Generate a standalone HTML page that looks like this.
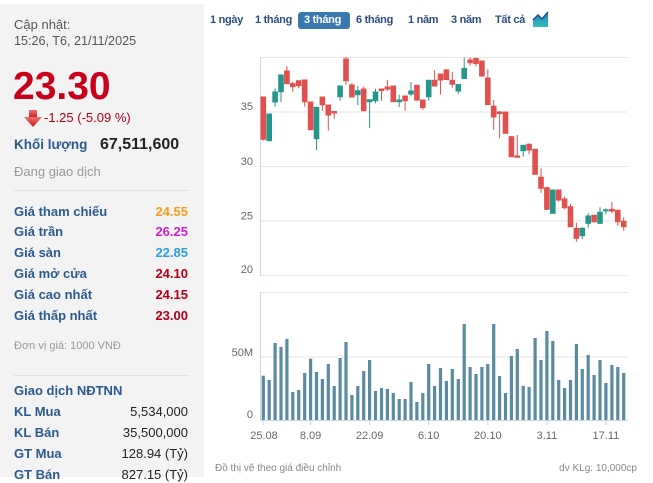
<!DOCTYPE html>
<html><head><meta charset="utf-8">
<style>
*{margin:0;padding:0;box-sizing:border-box}
html,body{width:653px;height:477px;overflow:hidden;background:#fff;font-family:"Liberation Sans",Arial,sans-serif}
.a{position:absolute;white-space:nowrap;line-height:16px}
#lp{position:absolute;left:0;top:4px;width:204px;height:473px;background:#f3f3f3}
.lb{font-size:13px;font-weight:bold;color:#2b5a8c;left:14px}
.vr{font-size:13px;font-weight:bold;right:465px;text-align:right}
.vn{font-size:13px;color:#222;right:465px;text-align:right}
.sep{position:absolute;left:14px;width:175px;height:1px;background:#e2e2e2}
.btn{font-size:11px;font-weight:bold;color:#2d4e7e;top:12px;letter-spacing:-0.3px}
</style></head><body>
<div id="lp"></div>
<div class="a" style="left:14px;top:17px;font-size:13px;color:#555">Cập nhật:</div>
<div class="a" style="left:14px;top:33px;font-size:12.6px;color:#555">15:26, T6, 21/11/2025</div>
<div class="a" style="left:13px;top:67px;font-size:39px;line-height:39px;font-weight:bold;color:#c8001c">23.30</div>
<svg style="position:absolute;left:22px;top:108px" width="22" height="22">
<defs><linearGradient id="ag" x1="0" y1="0" x2="0" y2="1"><stop offset="0" stop-color="#f07070"/><stop offset="1" stop-color="#c81818"/></linearGradient></defs>
<rect x="7" y="2" width="8" height="8" fill="url(#ag)"/><polygon points="2,9 20,9 11,19" fill="url(#ag)"/></svg>
<div class="a" style="left:44px;top:110px;font-size:13px;color:#a8001a">-1.25 (-5.09 %)</div>
<div class="a" style="left:14px;top:137px;font-size:13.5px;font-weight:bold;color:#2b5a8c">Khối lượng</div>
<div class="a" style="left:100px;top:137px;font-size:16px;font-weight:bold;color:#222">67,511,600</div>
<div class="a" style="left:14px;top:164px;font-size:13px;color:#999">Đang giao dịch</div>
<div class="sep" style="top:190px"></div>

<div class="a lb" style="top:204px">Giá tham chiếu</div><div class="a vr" style="top:204px;color:#f29d1c">24.55</div>
<div class="a lb" style="top:224px">Giá trần</div><div class="a vr" style="top:224px;color:#cc1fcc">26.25</div>
<div class="a lb" style="top:245px">Giá sàn</div><div class="a vr" style="top:245px;color:#2f9be0">22.85</div>
<div class="a lb" style="top:266px">Giá mở cửa</div><div class="a vr" style="top:266px;color:#b0001a">24.10</div>
<div class="a lb" style="top:287px">Giá cao nhất</div><div class="a vr" style="top:287px;color:#b0001a">24.15</div>
<div class="a lb" style="top:308px">Giá thấp nhất</div><div class="a vr" style="top:308px;color:#b0001a">23.00</div>
<div class="a" style="left:14px;top:338px;font-size:11px;color:#999">Đơn vị giá: 1000 VNĐ</div>
<div class="sep" style="top:375px"></div>
<div class="a lb" style="top:383px">Giao dịch NĐTNN</div>
<div class="a lb" style="top:404px">KL Mua</div><div class="a vn" style="top:404px">5,534,000</div>
<div class="a lb" style="top:425px">KL Bán</div><div class="a vn" style="top:425px">35,500,000</div>
<div class="a lb" style="top:446px">GT Mua</div><div class="a vn" style="top:446px">128.94 (Tỷ)</div>
<div class="a lb" style="top:467px">GT Bán</div><div class="a vn" style="top:467px">827.15 (Tỷ)</div>

<div style="position:absolute;left:298px;top:12px;width:52px;height:17px;background:#3a78b0;border-radius:3px"></div>
<div class="a btn" style="left:210px">1 ngày</div>
<div class="a btn" style="left:255px">1 tháng</div>
<div class="a btn" style="left:304px;color:#fff">3 tháng</div>
<div class="a btn" style="left:356px">6 tháng</div>
<div class="a btn" style="left:408px">1 năm</div>
<div class="a btn" style="left:451px">3 năm</div>
<div class="a btn" style="left:495px">Tất cả</div>
<svg style="position:absolute;left:532px;top:10px" width="18" height="18">
<defs><linearGradient id="ig" x1="0" y1="0" x2="0" y2="1"><stop offset="0" stop-color="#2a7fc0"/><stop offset="1" stop-color="#2cc0b8"/></linearGradient></defs>
<polygon points="1,17 1,10 6,5 10,9 16,2 16,17" fill="url(#ig)"/>
<polyline points="1,10 6,5 10,9 16,2" fill="none" stroke="#1f4f90" stroke-width="1.5"/></svg>

<svg style="position:absolute;left:0;top:0" width="653" height="477">
<g stroke="#e6e6e6" stroke-width="1">
<line x1="260" y1="57.5" x2="627" y2="57.5"/>
<line x1="260" y1="112" x2="627" y2="112"/>
<line x1="260" y1="166.5" x2="627" y2="166.5"/>
<line x1="260" y1="221" x2="627" y2="221"/>
<line x1="260" y1="275.5" x2="627" y2="275.5"/>
<line x1="260" y1="292.5" x2="628" y2="292.5"/>
<line x1="260" y1="357" x2="628" y2="357"/>
</g>
<g stroke="#ccd6eb" stroke-width="1">
<line x1="260.5" y1="57" x2="260.5" y2="276"/>
<line x1="260.5" y1="292" x2="260.5" y2="420"/>
<line x1="260" y1="420.5" x2="628" y2="420.5"/>
<line x1="263.3" y1="420" x2="263.3" y2="425"/>
<line x1="310.6" y1="420" x2="310.6" y2="425"/>
<line x1="369.6" y1="420" x2="369.6" y2="425"/>
<line x1="428.7" y1="420" x2="428.7" y2="425"/>
<line x1="487.8" y1="420" x2="487.8" y2="425"/>
<line x1="546.9" y1="420" x2="546.9" y2="425"/>
<line x1="605.9" y1="420" x2="605.9" y2="425"/>
</g>
<g font-family="Liberation Sans, Arial, sans-serif" font-size="11" fill="#666">
<text x="253" y="110" text-anchor="end">35</text>
<text x="253" y="165" text-anchor="end">30</text>
<text x="253" y="219.5" text-anchor="end">25</text>
<text x="253" y="273" text-anchor="end">20</text>
<text x="253" y="356" text-anchor="end">50M</text>
<text x="253" y="418" text-anchor="end">0</text>
<text x="264" y="439" text-anchor="middle">25.08</text>
<text x="310.6" y="439" text-anchor="middle">8.09</text>
<text x="369.6" y="439" text-anchor="middle">22.09</text>
<text x="428.7" y="439" text-anchor="middle">6.10</text>
<text x="487.8" y="439" text-anchor="middle">20.10</text>
<text x="546.9" y="439" text-anchor="middle">3.11</text>
<text x="605.9" y="439" text-anchor="middle">17.11</text>
</g>
<g font-family="Liberation Sans, Arial, sans-serif" font-size="10" fill="#888">
<text x="215" y="471">Đồ thị vẽ theo giá điều chỉnh</text>
<text x="637" y="471" text-anchor="end">dv KLg: 10,000cp</text>
</g>
<g fill="#5a8ba0">
<rect x="261.7" y="375.7" width="3.2" height="44.3"/>
<rect x="267.6" y="380" width="3.2" height="40"/>
<rect x="273.5" y="343" width="3.2" height="77"/>
<rect x="279.4" y="347" width="3.2" height="73"/>
<rect x="285.3" y="339" width="3.2" height="81"/>
<rect x="291.2" y="392" width="3.2" height="28"/>
<rect x="297.1" y="390" width="3.2" height="30"/>
<rect x="303.1" y="373" width="3.2" height="47"/>
<rect x="309.0" y="358.7" width="3.2" height="61.3"/>
<rect x="314.9" y="372" width="3.2" height="48"/>
<rect x="320.8" y="379" width="3.2" height="41"/>
<rect x="326.7" y="364" width="3.2" height="56"/>
<rect x="332.6" y="386" width="3.2" height="34"/>
<rect x="338.5" y="358" width="3.2" height="62"/>
<rect x="344.4" y="342" width="3.2" height="78"/>
<rect x="350.3" y="395" width="3.2" height="25"/>
<rect x="356.2" y="386" width="3.2" height="34"/>
<rect x="362.1" y="371" width="3.2" height="49"/>
<rect x="368.0" y="360" width="3.2" height="60"/>
<rect x="373.9" y="391" width="3.2" height="29"/>
<rect x="379.9" y="388" width="3.2" height="32"/>
<rect x="385.8" y="389" width="3.2" height="31"/>
<rect x="391.7" y="393" width="3.2" height="27"/>
<rect x="397.6" y="399" width="3.2" height="21"/>
<rect x="403.5" y="399" width="3.2" height="21"/>
<rect x="409.4" y="382" width="3.2" height="38"/>
<rect x="415.3" y="402" width="3.2" height="18"/>
<rect x="421.2" y="393" width="3.2" height="27"/>
<rect x="427.1" y="364" width="3.2" height="56"/>
<rect x="433.0" y="386" width="3.2" height="34"/>
<rect x="438.9" y="368" width="3.2" height="52"/>
<rect x="444.8" y="381" width="3.2" height="39"/>
<rect x="450.7" y="369" width="3.2" height="51"/>
<rect x="456.7" y="379" width="3.2" height="41"/>
<rect x="462.6" y="324" width="3.2" height="96"/>
<rect x="468.5" y="367" width="3.2" height="53"/>
<rect x="474.4" y="374" width="3.2" height="46"/>
<rect x="480.3" y="367" width="3.2" height="53"/>
<rect x="486.2" y="364" width="3.2" height="56"/>
<rect x="492.1" y="324" width="3.2" height="96"/>
<rect x="498.0" y="376" width="3.2" height="44"/>
<rect x="503.9" y="393" width="3.2" height="27"/>
<rect x="509.8" y="356" width="3.2" height="64"/>
<rect x="515.7" y="349" width="3.2" height="71"/>
<rect x="521.6" y="386" width="3.2" height="34"/>
<rect x="527.5" y="387" width="3.2" height="33"/>
<rect x="533.5" y="338" width="3.2" height="82"/>
<rect x="539.4" y="360" width="3.2" height="60"/>
<rect x="545.3" y="331" width="3.2" height="89"/>
<rect x="551.2" y="341" width="3.2" height="79"/>
<rect x="557.1" y="380" width="3.2" height="40"/>
<rect x="563.0" y="388" width="3.2" height="32"/>
<rect x="568.9" y="380" width="3.2" height="40"/>
<rect x="574.8" y="344" width="3.2" height="76"/>
<rect x="580.7" y="369" width="3.2" height="51"/>
<rect x="586.6" y="355" width="3.2" height="65"/>
<rect x="592.5" y="375" width="3.2" height="45"/>
<rect x="598.4" y="360" width="3.2" height="60"/>
<rect x="604.3" y="383" width="3.2" height="37"/>
<rect x="610.3" y="365" width="3.2" height="55"/>
<rect x="616.2" y="367" width="3.2" height="53"/>
<rect x="622.1" y="373" width="3.2" height="47"/>
</g>
<g stroke="#e0504e" stroke-width="1" fill="#e0504e">
<line x1="263.3" y1="97" x2="263.3" y2="140.7"/><rect x="261" y="97" width="4.6" height="42.3"/>
<line x1="286.9" y1="66" x2="286.9" y2="83.7"/><rect x="284.6" y="71" width="4.6" height="12.7"/>
<line x1="292.8" y1="81.7" x2="292.8" y2="91.7"/><rect x="290.5" y="83.7" width="4.6" height="3"/>
<line x1="298.7" y1="80.7" x2="298.7" y2="88.3"/><rect x="296.4" y="80.7" width="4.6" height="5"/>
<line x1="304.7" y1="80" x2="304.7" y2="106.7"/><rect x="302.4" y="80" width="4.6" height="21.7"/>
<rect x="308.3" y="102" width="4.6" height="27.7"/>
<line x1="322.4" y1="97" x2="322.4" y2="110.7"/><rect x="320.1" y="97" width="4.6" height="7.7"/>
<line x1="328.3" y1="105" x2="328.3" y2="130.7"/><rect x="326" y="105" width="4.6" height="10"/>
<line x1="334.2" y1="111" x2="334.2" y2="119"/><rect x="331.9" y="111.5" width="4.6" height="1.5"/>
<line x1="346.0" y1="57" x2="346.0" y2="84.7"/><rect x="343.7" y="59" width="4.6" height="21.7"/>
<line x1="351.9" y1="83" x2="351.9" y2="97"/><rect x="349.6" y="85" width="4.6" height="12"/>
<line x1="363.7" y1="86.7" x2="363.7" y2="110.7"/><rect x="361.4" y="89" width="4.6" height="21.7"/>
<line x1="381.5" y1="89" x2="381.5" y2="100.7"/><rect x="379.2" y="89" width="4.6" height="1.5"/>
<line x1="387.4" y1="80" x2="387.4" y2="91"/><rect x="385.1" y="87" width="4.6" height="2"/>
<rect x="391" y="86" width="4.6" height="15.7"/>
<line x1="405.1" y1="96" x2="405.1" y2="110.7"/><rect x="402.8" y="96" width="4.6" height="4.7"/>
<line x1="416.9" y1="85.3" x2="416.9" y2="101"/><rect x="414.6" y="85.3" width="4.6" height="14.7"/>
<line x1="422.8" y1="100" x2="422.8" y2="110"/><rect x="420.5" y="100" width="4.6" height="7.5"/>
<line x1="434.6" y1="70.3" x2="434.6" y2="86"/><rect x="432.3" y="80.3" width="4.6" height="5.7"/>
<line x1="440.5" y1="74" x2="440.5" y2="94.5"/><rect x="438.2" y="74" width="4.6" height="6"/>
<line x1="446.4" y1="69" x2="446.4" y2="80"/><rect x="444.1" y="70" width="4.6" height="9.5"/>
<line x1="452.3" y1="72" x2="452.3" y2="87.7"/><rect x="450" y="80.3" width="4.6" height="4"/>
<line x1="470.1" y1="57.3" x2="470.1" y2="65.7"/><rect x="467.8" y="60" width="4.6" height="2.7"/>
<line x1="476.0" y1="57.5" x2="476.0" y2="66.5"/><rect x="473.7" y="58.5" width="4.6" height="5"/>
<line x1="481.9" y1="61" x2="481.9" y2="77"/><rect x="479.6" y="61" width="4.6" height="15"/>
<line x1="487.8" y1="69.3" x2="487.8" y2="104.5"/><rect x="485.5" y="78" width="4.6" height="26.5"/>
<line x1="493.7" y1="100" x2="493.7" y2="130"/><rect x="491.4" y="106.2" width="4.6" height="10.8"/>
<line x1="499.6" y1="111" x2="499.6" y2="138.3"/><rect x="497.3" y="112" width="4.6" height="1.5"/>
<rect x="503.2" y="112" width="4.6" height="21.3"/>
<line x1="511.4" y1="136" x2="511.4" y2="156.7"/><rect x="509.1" y="136.7" width="4.6" height="20"/>
<line x1="517.3" y1="135" x2="517.3" y2="157.3"/><rect x="515" y="156" width="4.6" height="1.3"/>
<line x1="529.1" y1="143.3" x2="529.1" y2="154.3"/><rect x="526.8" y="144.3" width="4.6" height="5.7"/>
<rect x="532.8" y="149.3" width="4.6" height="25"/>
<line x1="541.0" y1="168.3" x2="541.0" y2="192.7"/><rect x="538.7" y="177.3" width="4.6" height="11"/>
<line x1="546.9" y1="186.7" x2="546.9" y2="209.3"/><rect x="544.6" y="187.7" width="4.6" height="21.6"/>
<line x1="558.7" y1="190" x2="558.7" y2="201.7"/><rect x="556.4" y="190" width="4.6" height="10"/>
<line x1="564.6" y1="196.7" x2="564.6" y2="209.3"/><rect x="562.3" y="199" width="4.6" height="8.7"/>
<line x1="570.5" y1="204" x2="570.5" y2="226.7"/><rect x="568.2" y="206.7" width="4.6" height="20"/>
<line x1="576.4" y1="222.7" x2="576.4" y2="241.7"/><rect x="574.1" y="228.3" width="4.6" height="10"/>
<line x1="594.1" y1="215.3" x2="594.1" y2="222.7"/><rect x="591.8" y="215.3" width="4.6" height="6.4"/>
<line x1="611.9" y1="202" x2="611.9" y2="213.3"/><rect x="609.6" y="209.3" width="4.6" height="1.7"/>
<line x1="617.8" y1="210.3" x2="617.8" y2="226"/><rect x="615.5" y="210.3" width="4.6" height="11.4"/>
<line x1="623.7" y1="217.3" x2="623.7" y2="230.7"/><rect x="621.4" y="221.3" width="4.6" height="5.4"/>
</g>
<g stroke="#27968a" stroke-width="1" fill="#27968a">
<line x1="269.2" y1="114" x2="269.2" y2="141"/><rect x="266.9" y="114" width="4.6" height="26.7"/>
<line x1="275.1" y1="88.3" x2="275.1" y2="106.7"/><rect x="272.8" y="92" width="4.6" height="10"/>
<line x1="281.0" y1="75" x2="281.0" y2="102"/><rect x="278.7" y="75" width="4.6" height="16.7"/>
<line x1="316.5" y1="107.3" x2="316.5" y2="150"/><rect x="314.2" y="107.3" width="4.6" height="31.4"/>
<line x1="340.1" y1="86" x2="340.1" y2="100.7"/><rect x="337.8" y="86" width="4.6" height="10.7"/>
<line x1="357.8" y1="86" x2="357.8" y2="105"/><rect x="355.5" y="90.7" width="4.6" height="4"/>
<line x1="369.6" y1="99.7" x2="369.6" y2="128"/><rect x="367.3" y="99.7" width="4.6" height="2"/>
<line x1="375.5" y1="88.7" x2="375.5" y2="103.3"/><rect x="373.2" y="92" width="4.6" height="8.7"/>
<line x1="399.2" y1="94.7" x2="399.2" y2="107"/><rect x="396.9" y="100" width="4.6" height="1.7"/>
<line x1="411.0" y1="82" x2="411.0" y2="96"/><rect x="408.7" y="91" width="4.6" height="3"/>
<line x1="428.7" y1="80.3" x2="428.7" y2="100.7"/><rect x="426.4" y="80.3" width="4.6" height="16.4"/>
<line x1="458.3" y1="84.5" x2="458.3" y2="93.7"/><rect x="456" y="84.5" width="4.6" height="6.5"/>
<line x1="464.2" y1="57.5" x2="464.2" y2="78.5"/><rect x="461.9" y="68.5" width="4.6" height="10"/>
<line x1="523.2" y1="145.3" x2="523.2" y2="156.7"/><rect x="520.9" y="145.3" width="4.6" height="5.4"/>
<rect x="550.5" y="190" width="4.6" height="23.3"/>
<line x1="582.3" y1="227.3" x2="582.3" y2="239.3"/><rect x="580" y="228.3" width="4.6" height="7.4"/>
<line x1="588.2" y1="213.3" x2="588.2" y2="227.7"/><rect x="585.9" y="216" width="4.6" height="7.3"/>
<line x1="600.0" y1="207.3" x2="600.0" y2="224"/><rect x="597.7" y="212.3" width="4.6" height="11"/>
<line x1="605.9" y1="208.3" x2="605.9" y2="214.3"/><rect x="603.6" y="209.8" width="4.6" height="1"/>
</g>
</svg>
</body></html>
